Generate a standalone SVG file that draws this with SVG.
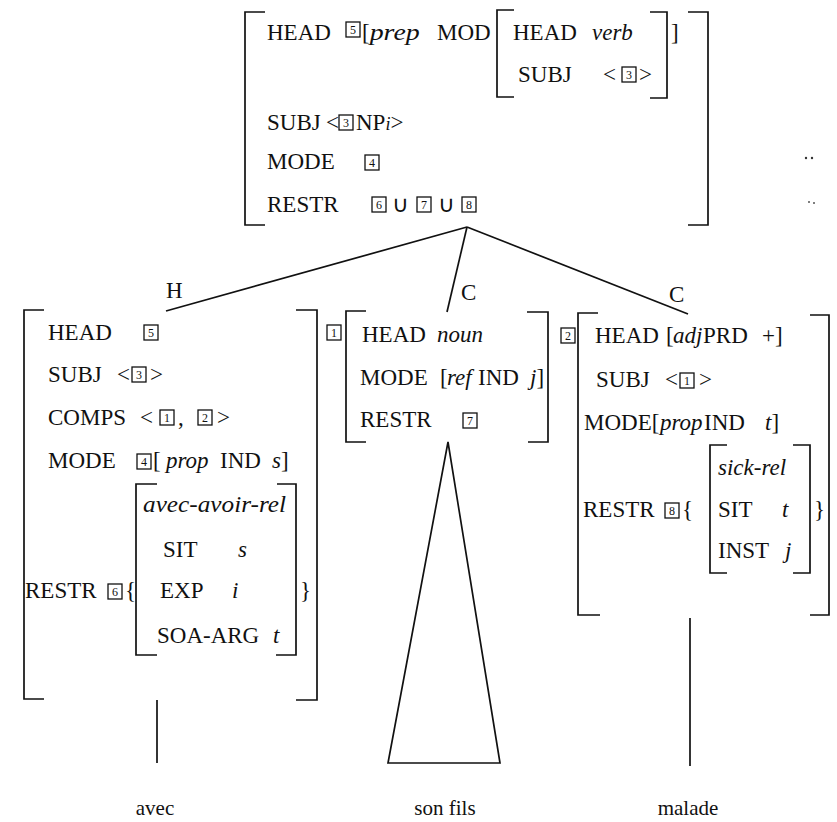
<svg xmlns="http://www.w3.org/2000/svg" width="837" height="822" viewBox="0 0 837 822">
<style>
text{font-family:"Liberation Serif","Times New Roman",serif;font-size:23px;fill:#111}
.i{font-style:italic}
.br{fill:none;stroke:#111;stroke-width:1.7}
.ln{fill:none;stroke:#111;stroke-width:1.7}
.bx{fill:none;stroke:#111;stroke-width:1.3}
.bn{font-size:12px;text-anchor:middle}
.lf{font-size:21px;text-anchor:middle}
</style>
<rect width="837" height="822" fill="#fff"/>
<defs>
<g id="b1"><rect class="bx" x="0" y="0" width="14" height="15"/><text class="bn" x="7" y="12">1</text></g>
<g id="b2"><rect class="bx" x="0" y="0" width="14" height="15"/><text class="bn" x="7" y="12">2</text></g>
<g id="b3"><rect class="bx" x="0" y="0" width="14" height="15"/><text class="bn" x="7" y="12">3</text></g>
<g id="b4"><rect class="bx" x="0" y="0" width="14" height="15"/><text class="bn" x="7" y="12">4</text></g>
<g id="b5"><rect class="bx" x="0" y="0" width="14" height="15"/><text class="bn" x="7" y="12">5</text></g>
<g id="b6"><rect class="bx" x="0" y="0" width="14" height="15"/><text class="bn" x="7" y="12">6</text></g>
<g id="b7"><rect class="bx" x="0" y="0" width="14" height="15"/><text class="bn" x="7" y="12">7</text></g>
<g id="b8"><rect class="bx" x="0" y="0" width="14" height="15"/><text class="bn" x="7" y="12">8</text></g>
</defs>

<g id="connectors">
<path class="ln" d="M467,227 L166,311"/>
<path class="ln" d="M467,227 L447,312"/>
<path class="ln" d="M467,227 L688,314"/>
<path class="ln" d="M157,700 V763"/>
<path class="ln" d="M448,442 L388,763 H500 Z"/>
<path class="ln" d="M690,618 V766"/>
<text x="166" y="298">H</text>
<text x="461" y="300">C</text>
<text x="669" y="302">C</text>
</g>

<g id="node-mother">
<path class="br" d="M265,12 H245 V225 H265"/>
<path class="br" d="M688,12 H708 V225 H688"/>
<path class="br" d="M514,10 H497 V97 H514"/>
<path class="br" d="M650,12 H667 V98 H650"/>
<text x="267" y="40">HEAD</text>
<use href="#b5" x="346" y="22"/>
<text x="362" y="40">[<tspan class="i" font-size="24" textLength="50" lengthAdjust="spacingAndGlyphs">prep</tspan></text>
<text x="437" y="40">MOD</text>
<text x="513" y="40">HEAD <tspan class="i" x="592">verb</tspan></text>
<text x="671" y="40">]</text>
<text x="518" y="82">SUBJ</text>
<text x="603" y="82">&lt;</text>
<use href="#b3" x="622" y="67"/>
<text x="639" y="82">&gt;</text>
<text x="267" y="130">SUBJ</text>
<text x="326" y="130">&lt;</text>
<use href="#b3" x="339" y="115"/>
<text x="356" y="130">NP<tspan class="i" font-size="18">i</tspan>&gt;</text>
<text x="267" y="169">MODE</text>
<use href="#b4" x="365" y="155"/>
<text x="267" y="212">RESTR</text>
<use href="#b6" x="372" y="197"/>
<text x="392" y="212">∪</text>
<use href="#b7" x="417" y="197"/>
<text x="438" y="212">∪</text>
<use href="#b8" x="462" y="197"/>
<circle cx="806" cy="158" r="1.2" fill="#333"/>
<circle cx="812" cy="158" r="1.2" fill="#333"/>
<circle cx="809" cy="202" r="1" fill="#555"/>
<circle cx="814" cy="203" r="1" fill="#555"/>
</g>

<g id="node-head">
<path class="br" d="M44,310 H24 V699 H44"/>
<path class="br" d="M296,310 H317 V700 H296"/>
<path class="br" d="M157,484 H136 V655 H157"/>
<path class="br" d="M277,484 H296 V655 H276"/>
<text x="48" y="340">HEAD</text>
<use href="#b5" x="144" y="325"/>
<text x="48" y="382">SUBJ</text>
<text x="117" y="382">&lt;</text>
<use href="#b3" x="132" y="367"/>
<text x="150" y="382">&gt;</text>
<text x="48" y="425">COMPS</text>
<text x="140" y="425">&lt;</text>
<use href="#b1" x="160" y="410"/>
<text x="178" y="425">,</text>
<use href="#b2" x="198" y="410"/>
<text x="217" y="425">&gt;</text>
<text x="48" y="468">MODE</text>
<use href="#b4" x="137" y="454"/>
<text x="153" y="468">[<tspan class="i" x="166">prop</tspan><tspan x="220">IND</tspan><tspan class="i" x="272">s</tspan>]</text>
<text class="i" x="143" y="512" textLength="143" lengthAdjust="spacingAndGlyphs">avec-avoir-rel</text>
<text x="163" y="557">SIT</text>
<text class="i" x="238" y="557">s</text>
<text x="25" y="598">RESTR</text>
<use href="#b6" x="108" y="584"/>
<text x="125" y="598">{</text>
<text x="160" y="598">EXP</text>
<text class="i" x="232" y="598">i</text>
<text x="300" y="598">}</text>
<text x="157" y="643">SOA-ARG</text>
<text class="i" x="273" y="643">t</text>
</g>

<g id="node-comp1">
<use href="#b1" x="327" y="325"/>
<path class="br" d="M366,311 H346 V442 H366"/>
<path class="br" d="M527,312 H548 V442 H528"/>
<text x="362" y="342">HEAD <tspan class="i" x="437">noun</tspan></text>
<text x="360" y="385">MODE <tspan x="440">[</tspan><tspan class="i" x="447">ref</tspan><tspan x="478">IND</tspan><tspan class="i" x="530">j</tspan>]</text>
<text x="360" y="427">RESTR</text>
<use href="#b7" x="463" y="413"/>
</g>

<g id="node-comp2">
<use href="#b2" x="561" y="328"/>
<path class="br" d="M598,313 H578 V615 H600"/>
<path class="br" d="M810,315 H829 V615 H810"/>
<text x="595" y="343">HEAD <tspan x="666">[</tspan><tspan class="i" x="673">adj</tspan><tspan x="703">PRD</tspan><tspan x="762">+]</tspan></text>
<text x="596" y="387">SUBJ</text>
<text x="665" y="387">&lt;</text>
<use href="#b1" x="680" y="373"/>
<text x="699" y="387">&gt;</text>
<text x="584" y="430">MODE[<tspan class="i" x="660">prop</tspan><tspan x="704">IND</tspan><tspan class="i" x="765">t</tspan>]</text>
<text x="583" y="517">RESTR</text>
<use href="#b8" x="665" y="503"/>
<text x="682" y="517">{</text>
<path class="br" d="M727,445 H710 V573 H727"/>
<path class="br" d="M793,445 H810 V573 H793"/>
<text class="i" x="718" y="475">sick-rel</text>
<text x="718" y="517">SIT</text>
<text class="i" x="782" y="517">t</text>
<text x="814" y="517">}</text>
<text x="718" y="558">INST</text>
<text class="i" x="785" y="558">j</text>
</g>

<g id="leaf-avec"><text class="lf" x="155" y="815">avec</text></g>
<g id="leaf-sonfils"><text class="lf" x="445" y="815">son fils</text></g>
<g id="leaf-malade"><text class="lf" x="688" y="815">malade</text></g>
</svg>
